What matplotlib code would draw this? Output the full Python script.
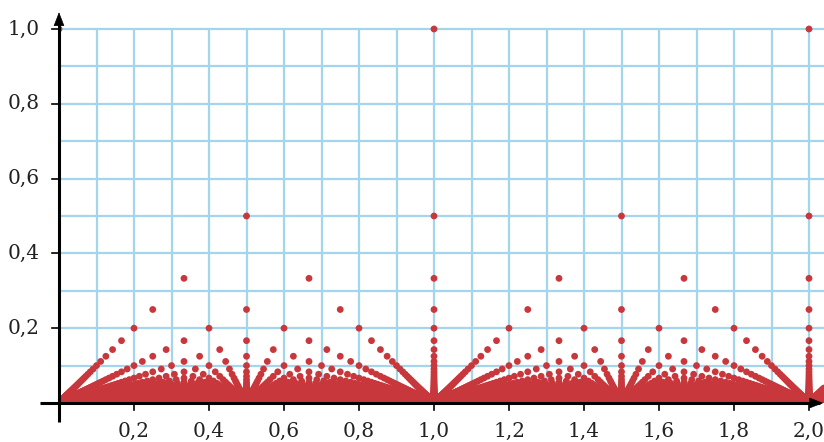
import matplotlib
matplotlib.use("Agg")
import matplotlib.pyplot as plt

# ---- data: points (p/q, 1/q) for integers p >= 1, q >= 1 on (0, ~2], plus (0, 1) ----
max_denominator = 300
x_domain = [0.0, 2.04]
x_tick_values = [0.2, 0.4, 0.6, 0.8, 1.0, 1.2, 1.4, 1.6, 1.8, 2.0]
x_tick_labels = ["0,2", "0,4", "0,6", "0,8", "1,0", "1,2", "1,4", "1,6", "1,8", "2,0"]
y_tick_values = [0.2, 0.4, 0.6, 0.8, 1.0]
y_tick_labels = ["0,2", "0,4", "0,6", "0,8", "1,0"]
grid_x = [i / 10 for i in range(0, 21)]
grid_y = [i / 10 for i in range(1, 11)]

xs, ys = [0.0], [1.0]
for q in range(max_denominator, 0, -1):
    pmax = int(x_domain[1] * q)
    for p in range(1, pmax + 1):
        xs.append(p / q)
        ys.append(1.0 / q)

# ---- figure ----
W, H = 824, 442
fig = plt.figure(figsize=(W / 100, H / 100), dpi=100)
x0px, y0px = 59, 403
xscale, yscale = 375.0, 374.0
ax = fig.add_axes([x0px / W, (H - y0px) / H, (W - x0px) / W, (y0px - 12) / H])
ax.set_xlim(0, (W - x0px) / xscale)
ax.set_ylim(0, (y0px - 12) / yscale)
ax.axis("off")

grid_color = "#a3d5ec"
xmax = (W - x0px) / xscale
for gx in grid_x:
    ax.plot([gx, gx], [0, 1.0], color=grid_color, lw=1.6, zorder=1, solid_capstyle="butt")
for gy in grid_y:
    ax.plot([0, xmax], [gy, gy], color=grid_color, lw=1.6, zorder=1, solid_capstyle="butt")

ax.scatter(xs, ys, s=24, color="#c8373b", edgecolors="none", zorder=3)

# axes with arrows
ax.plot([-0.05, xmax - 0.01], [0, 0], color="black", lw=2.2, zorder=5, clip_on=False,
        solid_capstyle="butt")
ax.plot([0, 0], [-0.05, 1.02], color="black", lw=2.2, zorder=5, clip_on=False,
        solid_capstyle="butt")
ax.annotate("", xy=(xmax - 0.002, 0), xytext=(xmax - 0.04, 0),
            arrowprops=dict(arrowstyle="-|>,head_length=0.9,head_width=0.35",
                            color="black", lw=0.5, shrinkA=0, shrinkB=0),
            zorder=6, annotation_clip=False)
ax.annotate("", xy=(0, 1.045), xytext=(0, 0.99),
            arrowprops=dict(arrowstyle="-|>,head_length=0.9,head_width=0.35",
                            color="black", lw=0.5, shrinkA=0, shrinkB=0),
            zorder=6, annotation_clip=False)

font = dict(family="DejaVu Serif", size=14.5, color="#222222")
for v, lab in zip(x_tick_values, x_tick_labels):
    ax.plot([v, v], [0, -0.018], color="black", lw=1.2, clip_on=False, zorder=5)
    ax.text(v, -0.077, lab, ha="center", va="center", clip_on=False, **font)
for v, lab in zip(y_tick_values, y_tick_labels):
    ax.plot([0, -0.02], [v, v], color="black", lw=1.2, clip_on=False, zorder=5)
    ax.text(-0.052, v, lab, ha="right", va="center", clip_on=False, **font)

fig.savefig("out.png", dpi=100)
